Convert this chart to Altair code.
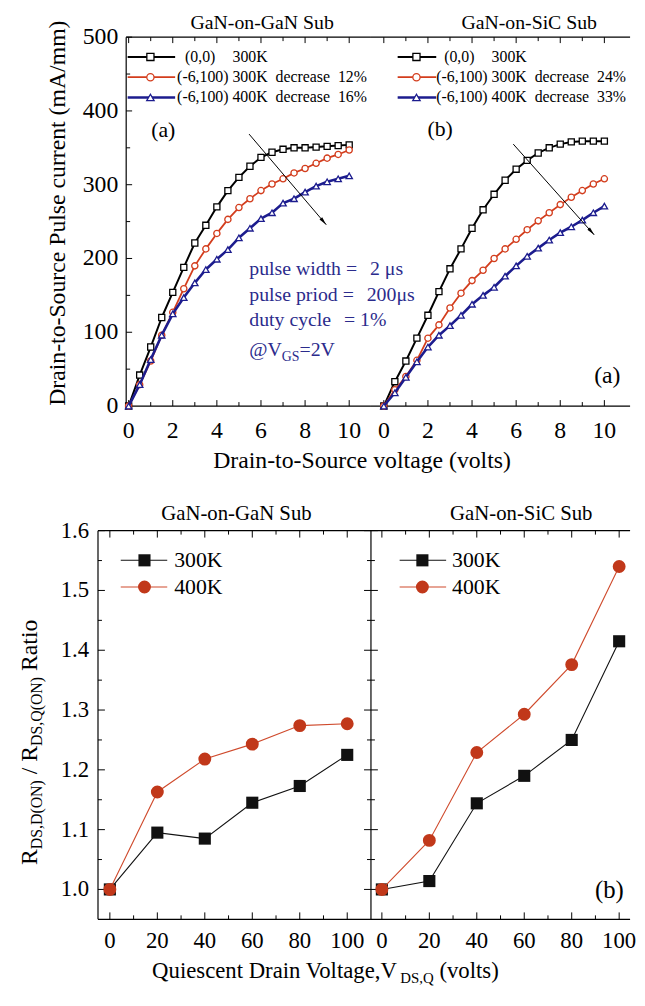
import math
import altair as alt
import pandas as pd

FONT = "Liberation Serif"
BLACK = "#000000"
RED_T = "#d33d1d"
NAVY_T = "#1c1c8e"
BLUE_TXT = "#2b2b8c"
RED_B = "#c1381a"

# ---------------- data ----------------
V_DS = [0.0, 0.5, 1.0, 1.5, 2.0, 2.5, 3.0, 3.5, 4.0, 4.5, 5.0,
        5.5, 6.0, 6.5, 7.0, 7.5, 8.0, 8.5, 9.0, 9.5, 10.0]

GAN_00_300K = [0, 42, 80, 120, 154, 188, 221, 245, 270, 292, 310,
               325, 337, 344, 348, 350, 350, 351, 352, 353, 354]
GAN_M6_300K = [0, 29, 61, 96, 127, 159, 190, 213, 234, 253, 269,
               281, 292, 301, 308, 316, 322, 329, 336, 341, 347]
GAN_M6_400K = [0, 29, 63, 96, 125, 147, 167, 185, 199, 212, 228,
               241, 254, 262, 275, 281, 290, 298, 304, 308, 312]

SIC_00_300K = [0, 33, 61, 92, 123, 155, 186, 213, 241, 266, 287,
               306, 321, 333, 343, 350, 355, 358, 359, 359, 359]
SIC_M6_300K = [0, 22, 40, 62, 92, 110, 133, 153, 170, 184, 200,
               213, 226, 239, 251, 262, 273, 283, 292, 301, 308]
SIC_M6_400K = [0, 18, 39, 60, 80, 96, 109, 123, 138, 150, 161,
               176, 190, 203, 214, 225, 235, 243, 252, 262, 271]

VQ = [0, 20, 40, 60, 80, 100]
GAN_RATIO_300K = [1.0, 1.095, 1.085, 1.145, 1.173, 1.225]
GAN_RATIO_400K = [1.0, 1.163, 1.218, 1.243, 1.274, 1.277]
SIC_RATIO_300K = [1.0, 1.014, 1.144, 1.190, 1.250, 1.415]
SIC_RATIO_400K = [1.0, 1.082, 1.229, 1.293, 1.376, 1.540]

PANEL_TITLES = ["GaN-on-GaN Sub", "GaN-on-SiC Sub"]
LEG_GAN = [["(0,0)", "300K"], ["(-6,100) 300K", "decrease", "12%"], ["(-6,100) 400K", "decrease", "16%"]]
LEG_SIC = [["(0,0)", "300K"], ["(-6,100) 300K", "decrease", "24%"], ["(-6,100) 400K", "decrease", "33%"]]
BOT_LEG = ["300K", "400K"]
PULSE_TEXT = [["pulse width =", "2 \u03bcs"], ["pulse priod =", "200\u03bcs"], ["duty cycle", "= 1%"]]

ARROW_GAN = [5.46, 368.6, 8.96, 245.7]
ARROW_SIC = [5.87, 355.0, 9.54, 232.0]

TOP_X_TICKS = [0, 2, 4, 6, 8, 10]
TOP_X_LABELS = ["0", "2", "4", "6", "8", "10"]
TOP_X_MINOR = [1, 3, 5, 7, 9]
TOP_Y_TICKS = [0, 100, 200, 300, 400, 500]
TOP_Y_LABELS = ["0", "100", "200", "300", "400", "500"]
TOP_Y_MINOR = [50, 150, 250, 350, 450]
BOT_X_TICKS = [0, 20, 40, 60, 80, 100]
BOT_X_LABELS = ["0", "20", "40", "60", "80", "100"]
BOT_X_MINOR = [10, 30, 50, 70, 90]
BOT_Y_TICKS = [1.0, 1.1, 1.2, 1.3, 1.4, 1.5, 1.6]
BOT_Y_LABELS = ["1.0", "1.1", "1.2", "1.3", "1.4", "1.5", "1.6"]
BOT_Y_MINOR = [1.05, 1.15, 1.25, 1.35, 1.45, 1.55]

# ---------------- layout ----------------
TOP_H = 373
TL_W, TR_W = 276, 262
TL_AX = 28.5                      # left frame of the upper plot inside the TL cell
TL_DOM, TR_DOM = [-1.39, 10.987], [-0.583, 11.166]
BOT_H = 393
BL_W, BR_W = 276, 262
BL_DOM, BR_DOM = [-5, 110], [-4.6, 104.6]

# Times / Liberation Serif advance widths (em)
CW = {' ': .25, '(': .333, ')': .333, ',': .25, '-': .333, '.': .25, '/': .278, '=': .564,
      '%': .833, '@': .921, 'A': .722, 'C': .667, 'D': .722, 'G': .722, 'K': .722, 'N': .722,
      'O': .722, 'Q': .722, 'R': .667, 'S': .556, 'V': .722, 'P': .556, 'a': .444, 'b': .5,
      'c': .444, 'd': .5, 'e': .444, 'g': .5, 'h': .5, 'i': .278, 'l': .278, 'm': .778,
      'n': .5, 'o': .5, 'p': .5, 'r': .333, 's': .389, 't': .278, 'u': .5, 'v': .5,
      'w': .722, 'y': .5, '\u03bc': .5}


def tw(s, size):
    return sum(CW.get(c, 0.5) for c in s) * size


ONE = pd.DataFrame({"k": [0]})


def label(s, x, y, size, color=BLACK, align="left", baseline="alphabetic", angle=None):
    kw = dict(font=FONT, fontSize=size, color=color, align=align, baseline=baseline)
    if angle is not None:
        kw["angle"] = angle
    return alt.Chart(ONE).mark_text(**kw).encode(text=alt.value(s), x=alt.value(x), y=alt.value(y))


def rich_h(pieces, x0, y_base, color=BLACK, center=False):
    total = sum(tw(s, sz) for s, sz, sh in pieces)
    x = x0 - total / 2 if center else x0
    out = []
    for s, sz, sh in pieces:
        lead = len(s) - len(s.lstrip(' '))
        x += lead * CW[' '] * sz
        s2 = s.lstrip(' ')
        out.append(label(s2, x, y_base + sh, sz, color))
        x += tw(s2, sz)
    return out


def rich_v(pieces, x_base, y_center):
    total = sum(tw(s, sz) for s, sz, sh in pieces)
    y = y_center + total / 2
    out = []
    for s, sz, sh in pieces:
        lead = len(s) - len(s.lstrip(' '))
        y -= lead * CW[' '] * sz
        s2 = s.lstrip(' ')
        out.append(label(s2, x_base + sh, y, sz, angle=270))
        y -= tw(s2, sz)
    return out


def sc(dom):
    return alt.Scale(domain=dom, nice=False, zero=False)


def X(field, xs):
    return alt.X(field, scale=xs, axis=None, title=None)


def Y(field, ys):
    return alt.Y(field, scale=ys, axis=None, title=None)


def hline(x0, x1, y, w=1.2):
    return alt.Chart(ONE).mark_rule(color=BLACK, strokeWidth=w).encode(
        x=alt.value(x0), x2=alt.value(x1), y=alt.value(y))


def vline(x, y0, y1, w=1.2):
    return alt.Chart(ONE).mark_rule(color=BLACK, strokeWidth=w).encode(
        x=alt.value(x), y=alt.value(y0), y2=alt.value(y1))


def xticks(vals, length, H, xs, top=True):
    df = pd.DataFrame({"v": vals})
    m = alt.Chart(df).mark_rule(color=BLACK, strokeWidth=1)
    out = [m.encode(x=X("v:Q", xs), y=alt.value(H), y2=alt.value(H - length))]
    if top:
        out.append(m.encode(x=X("v:Q", xs), y=alt.value(0), y2=alt.value(length)))
    return out


def yticks(vals, length, xpos, ys, direction=1):
    df = pd.DataFrame({"v": vals})
    return alt.Chart(df).mark_rule(color=BLACK, strokeWidth=1).encode(
        y=Y("v:Q", ys), x=alt.value(xpos), x2=alt.value(xpos + direction * length))


def xlabels(vals, texts, xs, y, size):
    df = pd.DataFrame({"v": vals, "t": texts})
    return alt.Chart(df).mark_text(font=FONT, fontSize=size, color=BLACK, align="center",
                                   baseline="top").encode(x=X("v:Q", xs), y=alt.value(y), text="t:N")


def ylabels(vals, texts, ys, x, size):
    df = pd.DataFrame({"v": vals, "t": texts})
    return alt.Chart(df).mark_text(font=FONT, fontSize=size, color=BLACK, align="right",
                                   baseline="middle").encode(y=Y("v:Q", ys), x=alt.value(x), text="t:N")


TOP_STYLES = [(BLACK, "square", 2.0, 38), (RED_T, "circle", 1.8, 40), (NAVY_T, "triangle-up", 2.6, 42)]
HEAD = "M0,0L0.55,2.6L-0.55,2.6Z"


def top_panel(W, xdom, series, left_ax, legend, leg_x, arrow, title, title_cx):
    H = TOP_H
    xs, ys = sc(xdom), sc([0, 500])
    x0 = left_ax if left_ax is not None else 0
    L = [hline(x0, W, 0), hline(x0, W, H)]
    L += xticks(TOP_X_TICKS, 6, H, xs) + xticks(TOP_X_MINOR, 4, H, xs)
    L.append(xlabels(TOP_X_TICKS, TOP_X_LABELS, xs, H + 13, 24))
    if left_ax is not None:
        L.append(vline(left_ax, 0, H))
        L += [yticks(TOP_Y_TICKS, 6, left_ax, ys), yticks(TOP_Y_MINOR, 4, left_ax, ys)]
        L.append(ylabels(TOP_Y_TICKS, TOP_Y_LABELS, ys, left_ax - 8, 24))
    for vals, (color, shape, sw, size) in zip(series, TOP_STYLES):
        df = pd.DataFrame({"x": V_DS, "y": vals})
        L.append(alt.Chart(df).mark_line(color=color, strokeWidth=sw, strokeJoin="round").encode(
            x=X("x:Q", xs), y=Y("y:Q", ys)))
        L.append(alt.Chart(df).mark_point(shape=shape, filled=True, fill="white", stroke=color,
                                          strokeWidth=1.3, size=size, opacity=1).encode(
            x=X("x:Q", xs), y=Y("y:Q", ys)))
    # arrow
    adf = pd.DataFrame({"x": [arrow[0]], "y": [arrow[1]], "x2": [arrow[2]], "y2": [arrow[3]]})
    L.append(alt.Chart(adf).mark_rule(color=BLACK, strokeWidth=1).encode(
        x=X("x:Q", xs), y=Y("y:Q", ys), x2="x2:Q", y2="y2:Q"))
    dxp = (arrow[2] - arrow[0]) * W / (xdom[1] - xdom[0])
    dyp = (arrow[3] - arrow[1]) * H / 500.0
    ang = math.degrees(math.atan2(dxp, dyp)) % 360
    L.append(alt.Chart(adf).mark_point(shape=HEAD, filled=True, color=BLACK, opacity=1, size=42,
                                       angle=round(ang, 1)).encode(x=X("x2:Q", xs), y=Y("y2:Q", ys)))
    # legend
    lx0, lx1, lxm, tx0 = leg_x
    fs = 16
    for r, (items, (color, shape, sw, size)) in enumerate(zip(legend, TOP_STYLES)):
        yy = 20 + 20.5 * r
        L.append(alt.Chart(ONE).mark_rule(color=color, strokeWidth=sw).encode(
            x=alt.value(lx0), x2=alt.value(lx1), y=alt.value(yy)))
        L.append(alt.Chart(ONE).mark_point(shape=shape, filled=True, fill="white", stroke=color,
                                           strokeWidth=1.3, size=size + 14, opacity=1).encode(
            x=alt.value(lxm), y=alt.value(yy)))
        col300 = tx0 + tw("(-6,100) ", fs)
        if len(items) == 2:
            L.append(label(items[0], tx0 + 8, yy, fs, baseline="middle"))
            L.append(label(items[1], col300, yy, fs, baseline="middle"))
        else:
            x = tx0
            for s in items:
                L.append(label(s, x, yy, fs, baseline="middle"))
                x += tw(s, fs) + 8
    L.append(label(title, title_cx, -8, 20, align="center"))
    return L


# ---------------- top panels ----------------
TL_layers = top_panel(TL_W, TL_DOM, [GAN_00_300K, GAN_M6_300K, GAN_M6_400K], TL_AX, LEG_GAN,
                      (30, 78, 53, 80), ARROW_GAN, PANEL_TITLES[0], 166)
TL_layers.append(label("(a)", 66, 94, 22, align="center", baseline="middle"))
TL_layers.append(label("Drain-to-Source Pulse current (mA/mm)", -33, 178, 24, align="center", angle=270))
TL_layers.append(label("Drain-to-Source voltage (volts)", 267, 436, 24, align="center"))
for r, (a, b) in enumerate(PULSE_TEXT):
    yb = 241 + 25.7 * r
    TL_layers.append(label(a, 153, yb, 20, BLUE_TXT))
    TL_layers.append(label(b, 153 + tw(a, 20) + 13, yb, 20, BLUE_TXT))
TL_layers += rich_h([("@V", 20, 0), ("GS", 14, 5), ("=2V", 20, 0)], 153, 322, BLUE_TXT)
TL = alt.layer(*TL_layers).properties(width=TL_W, height=TOP_H)

TR_layers = top_panel(TR_W, TR_DOM, [SIC_00_300K, SIC_M6_300K, SIC_M6_400K], None, LEG_SIC,
                      (27, 66, 46, 66), ARROW_SIC, PANEL_TITLES[1], 160)
TR_layers.append(label("(b)", 70, 93, 22, align="center", baseline="middle"))
TR_layers.append(label("(a)", 239, 343, 24, align="center", baseline="middle"))
TR = alt.layer(*TR_layers).properties(width=TR_W, height=TOP_H)


# ---------------- bottom panels ----------------
def bottom_panel(W, xdom, s300, s400, first, leg_x, title, title_cx):
    H = BOT_H
    xs, ys = sc(xdom), sc([0.95, 1.6])
    L = [hline(0, W, 0), hline(0, W, H)]
    L += xticks(BOT_X_TICKS, 7, H, xs) + xticks(BOT_X_MINOR, 4, H, xs)
    L.append(xlabels(BOT_X_TICKS, BOT_X_LABELS, xs, H + 11, 23))
    L += [yticks(BOT_Y_TICKS, 7, 0, ys), yticks(BOT_Y_MINOR, 4, 0, ys)]
    if first:
        L.append(vline(0, 0, H))
        L.append(vline(W, 0, H))
        L += [yticks(BOT_Y_TICKS, 7, W, ys, -1), yticks(BOT_Y_MINOR, 4, W, ys, -1)]
        L.append(ylabels(BOT_Y_TICKS, BOT_Y_LABELS, ys, -9, 23))
    styles = [(s300, "#111111", "square", 150, "#111111"), (s400, RED_B, "circle", 170, "#cf4a2c")]
    lx0, lx1, lxm, tx0 = leg_x
    for i, (vals, fillc, shape, size, linec) in enumerate(styles):
        df = pd.DataFrame({"x": VQ, "y": vals})
        L.append(alt.Chart(df).mark_line(color=linec, strokeWidth=1.1).encode(x=X("x:Q", xs), y=Y("y:Q", ys)))
        L.append(alt.Chart(df).mark_point(shape=shape, filled=True, color=fillc, opacity=1, size=size).encode(
            x=X("x:Q", xs), y=Y("y:Q", ys)))
        yy = 30 + 27 * i
        L.append(alt.Chart(ONE).mark_rule(color=linec, strokeWidth=1.1).encode(
            x=alt.value(lx0), x2=alt.value(lx1), y=alt.value(yy)))
        L.append(alt.Chart(ONE).mark_point(shape=shape, filled=True, color=fillc, opacity=1, size=size).encode(
            x=alt.value(lxm), y=alt.value(yy)))
        L.append(label(BOT_LEG[i], tx0, yy, 22, baseline="middle"))
    L.append(label(title, title_cx, -11, 21, align="center"))
    return L


BL_layers = bottom_panel(BL_W, BL_DOM, GAN_RATIO_300K, GAN_RATIO_400K, True, (23, 70, 47, 77),
                         PANEL_TITLES[0], 140)
BL_layers += rich_v([("R", 24, 0), ("DS,D(ON)", 16, 5), (" / R", 24, 0), ("DS,Q(ON)", 16, 5),
                     (" Ratio", 24, 0)], -62, 214)
BL_layers += rich_h([("Quiescent Drain Voltage,V", 23, 0), ("DS,Q", 15, 5), (" (volts)", 23, 0)],
                    230, 452, center=True)
BL = alt.layer(*BL_layers).properties(width=BL_W, height=BOT_H)

BR_layers = bottom_panel(BR_W, BR_DOM, SIC_RATIO_300K, SIC_RATIO_400K, False, (29, 76, 52, 82),
                         PANEL_TITLES[1], 152)
BR_layers.append(label("(b)", 241, 363, 25, align="center", baseline="middle"))
BR = alt.layer(*BR_layers).properties(width=BR_W, height=BOT_H)

chart = alt.concat(TL, TR, BL, BR, columns=2, spacing={"row": 126, "column": 0},
                   bounds="flush", align="each").properties(
    padding={"left": 10, "top": 0, "right": 0, "bottom": 0}
).configure(font=FONT).configure_view(stroke=None)

chart.save("out.html", embed_options={"renderer": "svg", "actions": False})
